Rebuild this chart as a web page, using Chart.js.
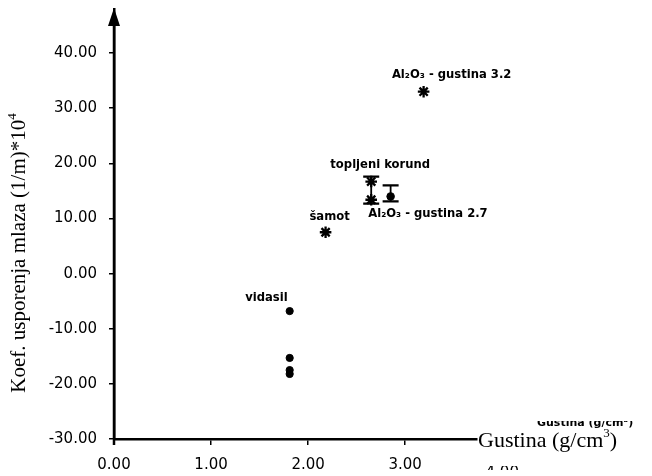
<!DOCTYPE html>
<html>
<head>
<meta charset="utf-8">
<script src="https://cdn.jsdelivr.net/npm/chart.js@4"></script>
<style>
  html, body { margin: 0; padding: 0; background: #fff; }
  #wrap { width: 652px; height: 476px; }
</style>
</head>
<body>
<div id="wrap"><canvas id="c" width="652" height="476"></canvas></div>
<script>
// ---- data ----
const xTicks = [0, 1, 2, 3];
const yTicks = [-30, -20, -10, 0, 10, 20, 30, 40];

const vidasilX = [1.81, 1.81, 1.81, 1.81];
const vidasilY = [-6.8, -15.3, -17.5, -18.2];

const samotX = [2.18];
const samotY = [7.5];

const korundX = [2.65, 2.65];
const korundY = [16.7, 13.4];
const korundErr = [12.7, 17.6];

const al27X = [2.85];
const al27Y = [14.0];
const al27Err = [13.1, 16.0];

const al32X = [3.19];
const al32Y = [33.0];

const labelTexts = ["vidasil", "šamot", "topljeni korund", "Al₂O₃ - gustina 2.7", "Al₂O₃ - gustina 3.2"];
const yTitle = "Koef. usporenja mlaza (1/m)*10";
const yTitleSup = "4";
const xTitle = "Gustina (g/cm";
const xTitleSup = "3";

// ---- build datasets ----
const pts = (xs, ys) => xs.map((x, i) => ({x: x, y: ys[i]}));

const datasets = [
  {label: labelTexts[0], data: pts(vidasilX, vidasilY), pointStyle: 'circle', pointRadius: 3.6, backgroundColor: '#000', borderColor: '#000', borderWidth: 1},
  {label: labelTexts[1], data: pts(samotX, samotY), pointStyle: 'star', pointRadius: 5.8, borderColor: '#000', borderWidth: 2.3},
  {label: labelTexts[2], data: pts(korundX, korundY), pointStyle: 'star', pointRadius: 5.8, borderColor: '#000', borderWidth: 2.3, errBar: korundErr},
  {label: labelTexts[3], data: pts(al27X, al27Y), pointStyle: 'circle', pointRadius: 3.8, backgroundColor: '#000', borderColor: '#000', borderWidth: 1, errBar: al27Err},
  {label: labelTexts[4], data: pts(al32X, al32Y), pointStyle: 'star', pointRadius: 5.8, borderColor: '#000', borderWidth: 2.3}
];

// label anchor: dataset index, point index, pixel offset, alignment
const labelAnchors = [
  {ds: 0, pt: 0, dx: -2, dy: -13, align: 'right'},
  {ds: 1, pt: 0, dx: 4, dy: -15, align: 'center'},
  {ds: 2, pt: 0, dx: 9, dy: -17, align: 'center'},
  {ds: 2, pt: 1, dx: -3, dy: 14, align: 'left'},
  {ds: 4, pt: 0, dx: 28, dy: -17, align: 'center'}
];

const decor = {
  id: 'decor',
  afterDatasetsDraw(chart) {
    const ctx = chart.ctx;
    const xs = chart.scales.x, ys = chart.scales.y;
    ctx.save();
    ctx.strokeStyle = '#000';
    ctx.fillStyle = '#000';
    // error bars
    chart.data.datasets.forEach(ds => {
      if (!ds.errBar) return;
      const px = xs.getPixelForValue(ds.data[0].x);
      const pLo = ys.getPixelForValue(ds.errBar[0]);
      const pHi = ys.getPixelForValue(ds.errBar[1]);
      ctx.lineWidth = 1.8;
      ctx.beginPath(); ctx.moveTo(px, pLo); ctx.lineTo(px, pHi); ctx.stroke();
      ctx.lineWidth = 2.2;
      ctx.beginPath();
      ctx.moveTo(px - 8, pLo); ctx.lineTo(px + 8, pLo);
      ctx.moveTo(px - 8, pHi); ctx.lineTo(px + 8, pHi);
      ctx.stroke();
    });
    // point labels
    ctx.font = 'bold 11.6px "DejaVu Sans"';
    ctx.textBaseline = 'middle';
    labelAnchors.forEach((a, i) => {
      const p = chart.data.datasets[a.ds].data[a.pt];
      const px = xs.getPixelForValue(p.x) + a.dx;
      const py = ys.getPixelForValue(p.y) + a.dy;
      ctx.textAlign = a.align;
      ctx.fillText(labelTexts[i], px, py);
    });
    // arrow at top of y axis
    const ax = xs.getPixelForValue(0);
    ctx.beginPath();
    ctx.moveTo(ax, 8); ctx.lineTo(ax - 6, 26); ctx.lineTo(ax + 6, 26); ctx.closePath();
    ctx.fill();
    ctx.lineWidth = 2.5;
    ctx.beginPath(); ctx.moveTo(ax, 20); ctx.lineTo(ax, ys.bottom + 6); ctx.stroke();

    // x title at end of axis
    const xr = chart.chartArea.right;
    const yb = ys.getPixelForValue(-30);
    ctx.textAlign = 'left';
    ctx.textBaseline = 'alphabetic';
    ctx.font = '22px "Liberation Serif"';
    ctx.fillText(xTitle, xr + 1, yb + 8);
    let w = ctx.measureText(xTitle).width;
    ctx.font = '13px "Liberation Serif"';
    ctx.fillText(xTitleSup, xr + 1 + w, yb - 2);
    let w2 = ctx.measureText(xTitleSup).width;
    ctx.font = '22px "Liberation Serif"';
    ctx.fillText(')', xr + 1 + w + w2, yb + 8);

    // y title rotated
    ctx.save();
    ctx.translate(25, 253);
    ctx.rotate(-Math.PI / 2);
    ctx.font = '21px "Liberation Serif"';
    const tw = ctx.measureText(yTitle).width;
    ctx.font = '13px "Liberation Serif"';
    const sw = ctx.measureText(yTitleSup).width;
    const total = tw + sw;
    ctx.font = '21px "Liberation Serif"';
    ctx.textAlign = 'left';
    ctx.fillText(yTitle, -total / 2, 0);
    ctx.font = '13px "Liberation Serif"';
    ctx.fillText(yTitleSup, -total / 2 + tw, -9);
    ctx.restore();

    // cut-off duplicates seen in the reference (bottom right)
    ctx.save();
    ctx.beginPath(); ctx.rect(520, 421, 132, 8); ctx.clip();
    ctx.font = 'bold 11px "DejaVu Sans"';
    ctx.textAlign = 'left';
    ctx.fillText('Gustina (g/cm³)', 537, 426);
    ctx.restore();
    ctx.save();
    ctx.beginPath(); ctx.rect(485, 466, 40, 4); ctx.clip();
    ctx.font = '15px "DejaVu Sans"';
    ctx.textAlign = 'center';
    ctx.fillText((4).toFixed(2), xs.getPixelForValue(4), 477);
    ctx.restore();
    ctx.restore();
  }
};

new Chart(document.getElementById('c'), {
  type: 'scatter',
  data: {datasets: datasets},
  options: {
    responsive: false,
    animation: false,
    devicePixelRatio: 1,
    layout: {padding: {left: 0, right: 175, top: 9, bottom: 0}},
    plugins: {legend: {display: false}, tooltip: {enabled: false}},
    scales: {
      x: {
        type: 'linear', min: 0, max: 3.74,
        afterBuildTicks: s => { s.ticks = xTicks.map(v => ({value: v})); },
        afterFit: s => { s.height = 37; s.paddingLeft = 0; s.paddingRight = 0; },
        border: {display: true, color: '#000', width: 2.5},
        grid: {display: true, drawOnChartArea: false, drawTicks: true, tickLength: 6, color: '#000', lineWidth: 1.5},
        ticks: {color: '#000', font: {family: 'DejaVu Sans', size: 15}, padding: 11, maxRotation: 0,
                callback: v => Number(v).toFixed(2)}
      },
      y: {
        type: 'linear', min: -30, max: 48,
        afterBuildTicks: s => { s.ticks = yTicks.map(v => ({value: v})); },
        afterFit: s => { s.width = 114; s.paddingTop = 0; s.paddingBottom = 0; },
        border: {display: true, color: '#000', width: 2.5},
        grid: {display: true, drawOnChartArea: false, drawTicks: true, tickLength: 5, color: '#000', lineWidth: 1.5},
        ticks: {color: '#000', font: {family: 'DejaVu Sans', size: 15}, padding: 12,
                callback: v => Number(v).toFixed(2)}
      }
    }
  },
  plugins: [decor]
});
</script>
</body>
</html>
